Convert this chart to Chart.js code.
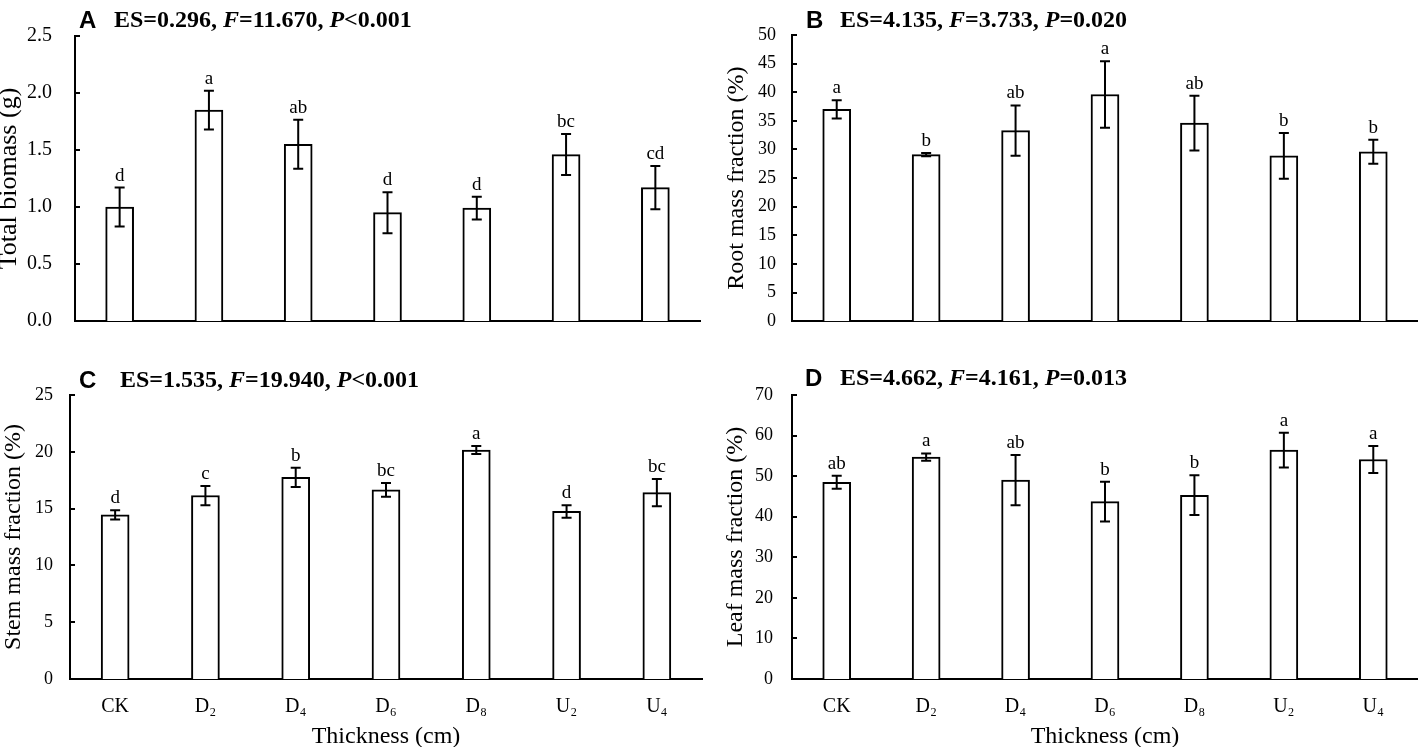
<!DOCTYPE html>
<html>
<head>
<meta charset="utf-8">
<script src="https://cdn.jsdelivr.net/npm/chart.js@4.4.1/dist/chart.umd.min.js"></script>
<style>
  html, body { margin: 0; padding: 0; background: #fff; overflow: hidden; }
  body { width: 1418px; height: 747px; position: relative; }
  .panel { position: absolute; }
  .head { position: absolute; white-space: nowrap; line-height: 22px; color: #000; }
  .tag { font: bold 24px "Liberation Sans", Arial, sans-serif; position: absolute; top: 0; }
  .stat { font: bold 24px "Liberation Serif", "Times New Roman", serif; position: absolute; top: 0; }
</style>
</head>
<body>

<div class="panel" style="left:0;top:0;width:709px;height:356px"><canvas id="chartA"></canvas></div>
<div class="panel" style="left:709px;top:0;width:709px;height:348px"><canvas id="chartB"></canvas></div>
<div class="panel" style="left:0;top:360px;width:709px;height:387px"><canvas id="chartC"></canvas></div>
<div class="panel" style="left:709px;top:360px;width:709px;height:387px"><canvas id="chartD"></canvas></div>

<div class="head" style="left:79px;top:6px"><span class="tag">A</span><span class="stat" style="left:35px">ES=0.296, <i>F</i>=11.670, <i>P</i>&lt;0.001</span></div>
<div class="head" style="left:806px;top:6px"><span class="tag">B</span><span class="stat" style="left:34px">ES=4.135, <i>F</i>=3.733, <i>P</i>=0.020</span></div>
<div class="head" style="left:79px;top:366px"><span class="tag">C</span><span class="stat" style="left:41px">ES=1.535, <i>F</i>=19.940, <i>P</i>&lt;0.001</span></div>
<div class="head" style="left:805px;top:364px"><span class="tag">D</span><span class="stat" style="left:35px">ES=4.662, <i>F</i>=4.161, <i>P</i>=0.013</span></div>

<script>
// treatments on the x axis
const categories = ["CK", "D\u2082", "D\u2084", "D\u2086", "D\u2088", "U\u2082", "U\u2084"];

// A - total biomass (g)
const totalBiomass = [1.00, 1.85, 1.55, 0.95, 0.99, 1.46, 1.17];
const totalBiomassErr = [0.17, 0.17, 0.215, 0.18, 0.10, 0.18, 0.19];
const totalBiomassLetters = ["d", "a", "ab", "d", "d", "bc", "cd"];

// B - root mass fraction (%)
const rootFraction = [37.0, 29.1, 33.3, 39.6, 34.6, 28.9, 29.6];
const rootFractionErr = [1.6, 0.3, 4.4, 5.8, 4.8, 4.0, 2.1];
const rootFractionLetters = ["a", "b", "ab", "a", "ab", "b", "b"];

// C - stem mass fraction (%)
const stemFraction = [14.45, 16.15, 17.75, 16.65, 20.15, 14.75, 16.4];
const stemFractionErr = [0.4, 0.85, 0.85, 0.6, 0.35, 0.55, 1.2];
const stemFractionLetters = ["d", "c", "b", "bc", "a", "d", "bc"];

// D - leaf mass fraction (%)
const leafFraction = [48.5, 54.7, 49.0, 43.7, 45.3, 56.4, 54.1];
const leafFractionErr = [1.6, 0.9, 6.2, 4.9, 4.9, 4.3, 3.3];
const leafFractionLetters = ["ab", "a", "ab", "b", "b", "a", "a"];

const serif = '"Liberation Serif", "Times New Roman", serif';
Chart.defaults.color = "#000";
Chart.defaults.font.family = serif;

// error bars, inward y ticks and significance letters
const errorBarPlugin = {
  id: "errorBars",
  afterDatasetsDraw(chart) {
    const ctx = chart.ctx;
    const ds = chart.data.datasets[0];
    const meta = chart.getDatasetMeta(0);
    const yScale = chart.scales.y;
    const area = chart.chartArea;

    ctx.save();
    ctx.strokeStyle = "#000";
    ctx.lineWidth = 2;

    // tick marks pointing into the plot
    yScale.ticks.forEach((t) => {
      const py = Math.round(yScale.getPixelForValue(t.value));
      ctx.beginPath();
      ctx.moveTo(area.left, py);
      ctx.lineTo(area.left + 5, py);
      ctx.stroke();
    });

    ctx.font = "19px " + serif;
    ctx.fillStyle = "#000";
    ctx.textAlign = "center";
    ctx.textBaseline = "alphabetic";

    meta.data.forEach((bar, i) => {
      const v = ds.data[i];
      const e = ds.errors[i];
      const yTop = yScale.getPixelForValue(v + e);
      const yBot = yScale.getPixelForValue(v - e);
      const x = bar.x;
      ctx.beginPath();
      ctx.moveTo(x, yTop);
      ctx.lineTo(x, yBot);
      ctx.moveTo(x - 5, yTop);
      ctx.lineTo(x + 5, yTop);
      ctx.moveTo(x - 5, yBot);
      ctx.lineTo(x + 5, yBot);
      ctx.stroke();
      ctx.fillText(ds.letters[i], x, yTop - 7);
    });
    ctx.restore();
  }
};

function makePanel(id, values, errors, letters, cfg) {
  const ctx = document.getElementById(id).getContext("2d");
  return new Chart(ctx, {
    type: "bar",
    data: {
      labels: categories,
      datasets: [{
        data: values,
        errors: errors,
        letters: letters,
        backgroundColor: "#fff",
        borderColor: "#000",
        borderWidth: 2,
        barThickness: 28
      }]
    },
    plugins: [errorBarPlugin],
    options: {
      responsive: true,
      maintainAspectRatio: false,
      animation: false,
      layout: { padding: cfg.padding },
      plugins: { legend: { display: false }, tooltip: { enabled: false } },
      scales: {
        x: {
          grid: { display: false, drawTicks: false },
          border: { display: true, color: "#000", width: 2 },
          ticks: { display: cfg.showX, font: { size: 20, family: serif }, padding: 16, color: "#000" },
          title: {
            display: cfg.showX,
            text: "Thickness (cm)",
            font: { size: 24, family: serif, lineHeight: 1 },
            padding: { top: -10, bottom: -2 },
            color: "#000"
          }
        },
        y: {
          min: 0,
          max: cfg.max,
          grid: { display: false, drawTicks: false },
          border: { display: true, color: "#000", width: 2 },
          ticks: {
            stepSize: cfg.step,
            padding: cfg.tickPad,
            font: { size: cfg.tickSize, family: serif },
            color: "#000",
            callback: (v) => cfg.decimals ? v.toFixed(cfg.decimals) : v
          },
          title: {
            display: true,
            text: cfg.yTitle,
            font: { size: cfg.yTitleSize, family: serif, lineHeight: 1 },
            padding: { top: cfg.titlePad, bottom: 0 },
            color: "#000"
          },
          afterFit: (scale) => { scale.width = cfg.axisWidth; }
        }
      }
    }
  });
}

makePanel("chartA", totalBiomass, totalBiomassErr, totalBiomassLetters, {
  max: 2.5, step: 0.5, decimals: 1, yTitle: "Total biomass (g)", yTitleSize: 26, tickSize: 20,
  axisWidth: 75, tickPad: 23, titlePad: -4, showX: false,
  padding: { top: 36, right: 9, bottom: 0, left: 0 }
});

makePanel("chartB", rootFraction, rootFractionErr, rootFractionLetters, {
  max: 50, step: 5, decimals: 0, yTitle: "Root mass fraction (%)", yTitleSize: 24, tickSize: 18,
  axisWidth: 83, tickPad: 16, titlePad: 16, showX: false,
  padding: { top: 35, right: 0, bottom: 0, left: 0 }
});

makePanel("chartC", stemFraction, stemFractionErr, stemFractionLetters, {
  max: 25, step: 5, decimals: 0, yTitle: "Stem mass fraction (%)", yTitleSize: 24, tickSize: 18,
  axisWidth: 70, tickPad: 17, titlePad: 2, showX: true,
  padding: { top: 35, right: 7, bottom: 0, left: 0 }
});

makePanel("chartD", leafFraction, leafFractionErr, leafFractionLetters, {
  max: 70, step: 10, decimals: 0, yTitle: "Leaf mass fraction (%)", yTitleSize: 24, tickSize: 18,
  axisWidth: 83, tickPad: 19, titlePad: 15, showX: true,
  padding: { top: 35, right: 0, bottom: 0, left: 0 }
});
</script>
</body>
</html>
